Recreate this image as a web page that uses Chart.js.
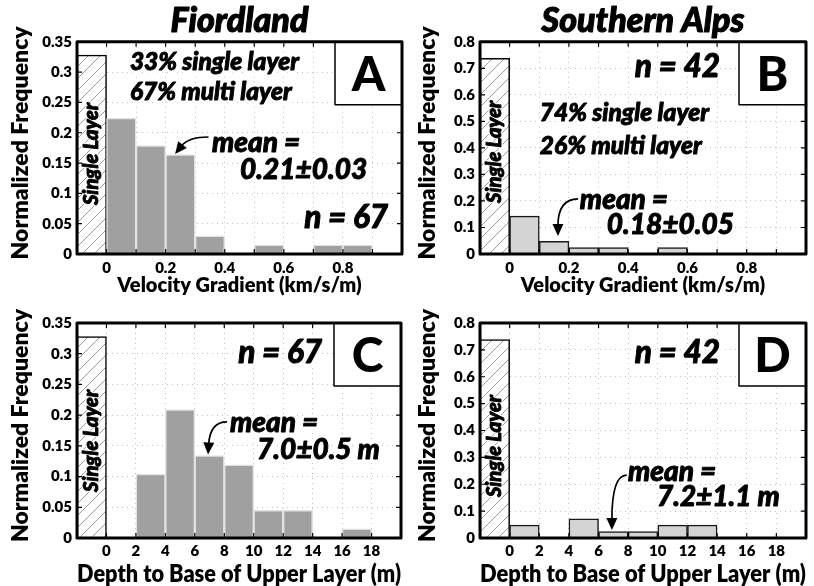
<!DOCTYPE html>
<html>
<head>
<meta charset="utf-8">
<script src="https://cdn.jsdelivr.net/npm/chart.js@4.4.1/dist/chart.umd.min.js"></script>
<style>
html, body { margin: 0; padding: 0; background: #fff; }
#wrap { position: relative; width: 814px; height: 586px; }
.cell { position: absolute; }
</style>
</head>
<body>
<div id="wrap">
  <div class="cell" style="left:0;top:0;width:407px;height:305px"><canvas id="chartA"></canvas></div>
  <div class="cell" style="left:407px;top:0;width:407px;height:305px"><canvas id="chartB"></canvas></div>
  <div class="cell" style="left:0;top:305px;width:407px;height:281px"><canvas id="chartC"></canvas></div>
  <div class="cell" style="left:407px;top:305px;width:407px;height:281px"><canvas id="chartD"></canvas></div>
</div>
<script>
// histogram bins (first bin = "single layer" sites)
const gradientBinCentres = [-0.05, 0.05, 0.15, 0.25, 0.35, 0.45, 0.55, 0.65, 0.75, 0.85];
const depthBinCentres = [-1, 1, 3, 5, 7, 9, 11, 13, 15, 17];

const fiordlandGradient = [0.328, 0.224, 0.179, 0.164, 0.030, 0, 0.015, 0, 0.015, 0.015];
const alpsGradient = [0.738, 0.143, 0.048, 0.024, 0.024, 0, 0.024, 0, 0, 0];
const fiordlandDepth = [0.328, 0, 0.104, 0.209, 0.134, 0.119, 0.045, 0.045, 0, 0.015];
const alpsDepth = [0.738, 0.048, 0, 0.071, 0.024, 0.024, 0.048, 0.048, 0, 0];

// ticks
const gradientTicks = [-0.1, 0, 0.1, 0.2, 0.3, 0.4, 0.5, 0.6, 0.7, 0.8, 0.9, 1.0];
const gradientLabels = [0, 0.2, 0.4, 0.6, 0.8];
const depthTicks = [-2, 0, 2, 4, 6, 8, 10, 12, 14, 16, 18, 20];
const depthLabels = [0, 2, 4, 6, 8, 10, 12, 14, 16, 18];
const fiordlandFreqTicks = [0, 0.05, 0.1, 0.15, 0.2, 0.25, 0.3, 0.35];
const alpsFreqTicks = [0, 0.1, 0.2, 0.3, 0.4, 0.5, 0.6, 0.7, 0.8];

const FONT = 'Lato, "Open Sans", sans-serif';

const hatch = (function () {
  const c = document.createElement('canvas');
  c.width = 12; c.height = 12;
  const g = c.getContext('2d');
  g.fillStyle = '#fff';
  g.fillRect(0, 0, 12, 12);
  g.strokeStyle = '#9c9c9c';
  g.lineWidth = 1;
  g.beginPath();
  g.moveTo(-1, 13); g.lineTo(13, -1);
  g.moveTo(-7, 7); g.lineTo(7, -7);
  g.moveTo(5, 19); g.lineTo(19, 5);
  g.stroke();
  return g.createPattern(c, 'repeat');
})();

// heavy italic text with a white halo (covers the grid like the original)
function haloText(ctx, text, px, py, size, align, halo) {
  ctx.font = 'italic 900 ' + size + 'px ' + FONT;
  ctx.textAlign = align;
  ctx.textBaseline = 'middle';
  ctx.lineJoin = 'round';
  ctx.strokeStyle = '#fff';
  ctx.lineWidth = halo;
  ctx.strokeText(text, px, py);
  ctx.fillStyle = '#000';
  ctx.fillText(text, px, py);
  ctx.strokeStyle = '#000';
  ctx.lineWidth = 0.9;
  ctx.strokeText(text, px, py);
}

const panelDecor = {
  id: 'panelDecor',
  afterDraw(chart, args, o) {
    const { ctx, chartArea: a, scales: { x, y } } = chart;
    ctx.save();

    // thicken the panel title a little
    const tOpts = chart.options.plugins.title;
    const tb = chart.titleBlock;
    if (tOpts.display && tb) {
      const size = tOpts.font.size;
      ctx.font = 'italic 900 ' + size + 'px ' + FONT;
      ctx.textAlign = 'center';
      ctx.textBaseline = 'middle';
      ctx.strokeStyle = '#000';
      ctx.lineWidth = 1.1;
      ctx.lineJoin = 'round';
      ctx.strokeText(tOpts.text, tb.left + tb.width / 2, tb.top + tOpts.padding.top + size * 0.6);
    }

    // y axis title
    ctx.save();
    ctx.translate(o.yTitleX, (a.top + a.bottom) / 2 - 5);
    ctx.rotate(-Math.PI / 2);
    ctx.font = '800 23px ' + FONT;
    ctx.textAlign = 'center';
    ctx.textBaseline = 'middle';
    ctx.fillStyle = '#000';
    ctx.fillText('Normalized Frequency', 0, 0);
    ctx.restore();

    // "Single Layer" label inside the hatched bar
    ctx.save();
    ctx.translate(x.getPixelForValue(o.singleCentre), y.getPixelForValue(o.singleY));
    ctx.rotate(-Math.PI / 2);
    haloText(ctx, 'Single Layer', 0, 0, 20, 'center', 3);
    ctx.restore();

    // text annotations
    o.texts.forEach(t => {
      haloText(ctx, t.t, x.getPixelForValue(t.x), y.getPixelForValue(t.y), t.size, t.align, 6);
    });

    // curved arrow
    const s = [x.getPixelForValue(o.arrow.from[0]), y.getPixelForValue(o.arrow.from[1])];
    const e = [x.getPixelForValue(o.arrow.to[0]), y.getPixelForValue(o.arrow.to[1])];
    const c = [e[0] + (s[0] - e[0]) * o.arrow.bend, s[1]];
    let dx = e[0] - c[0], dy = e[1] - c[1];
    const len = Math.hypot(dx, dy);
    dx /= len; dy /= len;
    const headL = 12, headW = 5.5;
    const base = [e[0] - dx * headL, e[1] - dy * headL];
    ctx.strokeStyle = '#000';
    ctx.lineWidth = 1.7;
    ctx.beginPath();
    ctx.moveTo(s[0], s[1]);
    ctx.quadraticCurveTo(c[0], c[1], base[0] + dx * 2, base[1] + dy * 2);
    ctx.stroke();
    ctx.fillStyle = '#000';
    ctx.beginPath();
    ctx.moveTo(e[0], e[1]);
    ctx.lineTo(base[0] - dy * headW, base[1] + dx * headW);
    ctx.lineTo(base[0] + dy * headW, base[1] - dx * headW);
    ctx.closePath();
    ctx.fill();

    // small inward tick marks on the frame
    ctx.strokeStyle = '#000';
    ctx.lineWidth = 1.2;
    ctx.beginPath();
    x.ticks.forEach(t => {
      const px = x.getPixelForValue(t.value);
      ctx.moveTo(px, a.top); ctx.lineTo(px, a.top + 5);
      ctx.moveTo(px, a.bottom); ctx.lineTo(px, a.bottom - 5);
    });
    y.ticks.forEach(t => {
      const py = y.getPixelForValue(t.value);
      ctx.moveTo(a.left, py); ctx.lineTo(a.left + 5, py);
      ctx.moveTo(a.right, py); ctx.lineTo(a.right - 5, py);
    });
    ctx.stroke();

    // panel letter box
    const bw = 67, bh = 63;
    ctx.fillStyle = '#fff';
    ctx.fillRect(a.right - bw, a.top, bw, bh);
    ctx.lineWidth = 1.5;
    ctx.strokeRect(a.right - bw, a.top, bw, bh);
    ctx.fillStyle = '#000';
    ctx.font = '900 48px ' + FONT;
    ctx.textAlign = 'center';
    ctx.textBaseline = 'middle';
    ctx.fillText(o.letter, a.right - bw / 2, a.top + bh / 2 + 2);

    // plot frame
    ctx.lineWidth = 3;
    ctx.strokeRect(a.left, a.top, a.width, a.height);
    ctx.restore();
  }
};

function hasLabel(list, v) {
  return list.some(l => Math.abs(l - v) < 1e-9);
}

function makeChart(id, o) {
  return new Chart(document.getElementById(id), {
    type: 'bar',
    data: {
      datasets: [{
        data: o.centres.map((c, i) => ({ x: c, y: o.values[i] })),
        backgroundColor: o.values.map((v, i) => i === 0 ? hatch : o.fill),
        borderColor: o.values.map((v, i) => i === 0 ? '#000' : o.edge),
        borderWidth: 1.5,
        barPercentage: 1,
        categoryPercentage: 1
      }]
    },
    options: {
      responsive: true,
      maintainAspectRatio: false,
      animation: false,
      layout: { padding: o.pad },
      plugins: {
        legend: { display: false },
        tooltip: { enabled: false },
        title: {
          display: !!o.title,
          text: o.title,
          fullSize: false,
          color: '#000',
          font: { family: FONT, size: 34, weight: '900', style: 'italic' },
          padding: { top: 1, bottom: 0 }
        },
        panelDecor: o.decor
      },
      scales: {
        x: {
          type: 'linear',
          min: o.xTicks[0],
          max: o.xTicks[o.xTicks.length - 1],
          offset: false,
          afterBuildTicks: s => { s.ticks = o.xTicks.map(v => ({ value: v })); },
          afterFit: s => { s.height = o.xAxisHeight; },
          grid: { offset: false, color: '#c2c2c2', lineWidth: 1, drawTicks: false },
          border: { display: false, dash: [1, 4] },
          ticks: {
            autoSkip: false, maxRotation: 0, padding: o.xTickPad, color: '#000',
            font: { family: FONT, size: 15, weight: '800' },
            callback: v => hasLabel(o.xLabels, v) ? String(v) : ''
          },
          title: {
            display: true, text: o.xTitle, color: '#000',
            font: { family: FONT, size: o.xTitleSize, weight: '800', lineHeight: 1 },
            padding: { top: 0, bottom: o.xTitlePad }
          }
        },
        y: {
          type: 'linear',
          min: 0,
          max: o.yTicks[o.yTicks.length - 1],
          afterBuildTicks: s => { s.ticks = o.yTicks.map(v => ({ value: v })); },
          afterFit: s => { s.width = o.yAxisWidth; },
          grid: { color: '#c2c2c2', lineWidth: 1, drawTicks: false },
          border: { display: false, dash: [1, 4] },
          ticks: {
            padding: 5, color: '#000',
            font: { family: FONT, size: 15, weight: '800' },
            callback: v => String(v)
          },
          title: { display: false }
        }
      }
    },
    plugins: [panelDecor]
  });
}

makeChart('chartA', {
  title: 'Fiordland',
  centres: gradientBinCentres, values: fiordlandGradient,
  fill: '#a0a0a0', edge: '#e2e2e2',
  xTicks: gradientTicks, xLabels: gradientLabels, xTitle: 'Velocity Gradient (km/s/m)',
  xTitleSize: 20,
  yTicks: fiordlandFreqTicks,
  pad: { left: 0, right: 5, top: 0, bottom: 0 },
  yAxisWidth: 77, xAxisHeight: 51, xTickPad: 5, xTitlePad: 9,
  decor: {
    letter: 'A', singleCentre: -0.05, singleY: 0.165, yTitleX: 21,
    texts: [
      { t: '33% single layer', x: 0.079, y: 0.317, size: 24.5, align: 'left' },
      { t: '67% multi layer', x: 0.079, y: 0.267, size: 24.5, align: 'left' },
      { t: 'mean =', x: 0.357, y: 0.183, size: 28, align: 'left' },
      { t: '0.21±0.03', x: 0.452, y: 0.139, size: 28, align: 'left' },
      { t: 'n = 67', x: 0.953, y: 0.059, size: 31.5, align: 'right' }
    ],
    arrow: { from: [0.345, 0.193], to: [0.232, 0.165], bend: 0.4 }
  }
});

makeChart('chartB', {
  title: 'Southern Alps',
  centres: gradientBinCentres, values: alpsGradient,
  fill: '#d4d4d4', edge: '#1a1a1a',
  xTicks: gradientTicks, xLabels: gradientLabels, xTitle: 'Velocity Gradient (km/s/m)',
  xTitleSize: 20,
  yTicks: alpsFreqTicks,
  pad: { left: 0, right: 8, top: 0, bottom: 0 },
  yAxisWidth: 73, xAxisHeight: 51, xTickPad: 5, xTitlePad: 9,
  decor: {
    letter: 'B', singleCentre: -0.05, singleY: 0.385, yTitleX: 21,
    texts: [
      { t: 'n = 42', x: 0.71, y: 0.705, size: 31.5, align: 'right' },
      { t: '74% single layer', x: 0.102, y: 0.532, size: 24.5, align: 'left' },
      { t: '26% multi layer', x: 0.102, y: 0.405, size: 24.5, align: 'left' },
      { t: 'mean =', x: 0.237, y: 0.204, size: 28, align: 'left' },
      { t: '0.18±0.05', x: 0.328, y: 0.109, size: 28, align: 'left' }
    ],
    arrow: { from: [0.231, 0.208], to: [0.163, 0.068], bend: 0 }
  }
});

makeChart('chartC', {
  title: null,
  centres: depthBinCentres, values: fiordlandDepth,
  fill: '#a0a0a0', edge: '#e2e2e2',
  xTicks: depthTicks, xLabels: depthLabels, xTitle: 'Depth to Base of Upper Layer (m)',
  xTitleSize: 23.5,
  yTicks: fiordlandFreqTicks,
  pad: { left: 0, right: 6, top: 18, bottom: 0 },
  yAxisWidth: 77, xAxisHeight: 48, xTickPad: 4, xTitlePad: 0,
  decor: {
    letter: 'C', singleCentre: -1, singleY: 0.158, yTitleX: 21,
    texts: [
      { t: 'n = 67', x: 14.64, y: 0.301, size: 31.5, align: 'right' },
      { t: 'mean =', x: 8.39, y: 0.187, size: 28, align: 'left' },
      { t: '7.0±0.5 m', x: 10.22, y: 0.143, size: 28, align: 'left' }
    ],
    arrow: { from: [8.19, 0.189], to: [6.9, 0.136], bend: 0.1 }
  }
});

makeChart('chartD', {
  title: null,
  centres: depthBinCentres, values: alpsDepth,
  fill: '#d4d4d4', edge: '#1a1a1a',
  xTicks: depthTicks, xLabels: depthLabels, xTitle: 'Depth to Base of Upper Layer (m)',
  xTitleSize: 23.5,
  yTicks: alpsFreqTicks,
  pad: { left: 0, right: 8, top: 18, bottom: 0 },
  yAxisWidth: 73, xAxisHeight: 48, xTickPad: 4, xTitlePad: 0,
  decor: {
    letter: 'D', singleCentre: -1, singleY: 0.342, yTitleX: 21,
    texts: [
      { t: 'n = 42', x: 14.2, y: 0.688, size: 31.5, align: 'right' },
      { t: 'mean =', x: 7.99, y: 0.246, size: 28, align: 'left' },
      { t: '7.2±1.1 m', x: 9.94, y: 0.153, size: 28, align: 'left' }
    ],
    arrow: { from: [7.9, 0.234], to: [6.9, 0.03], bend: 0 }
  }
});
</script>
</body>
</html>
